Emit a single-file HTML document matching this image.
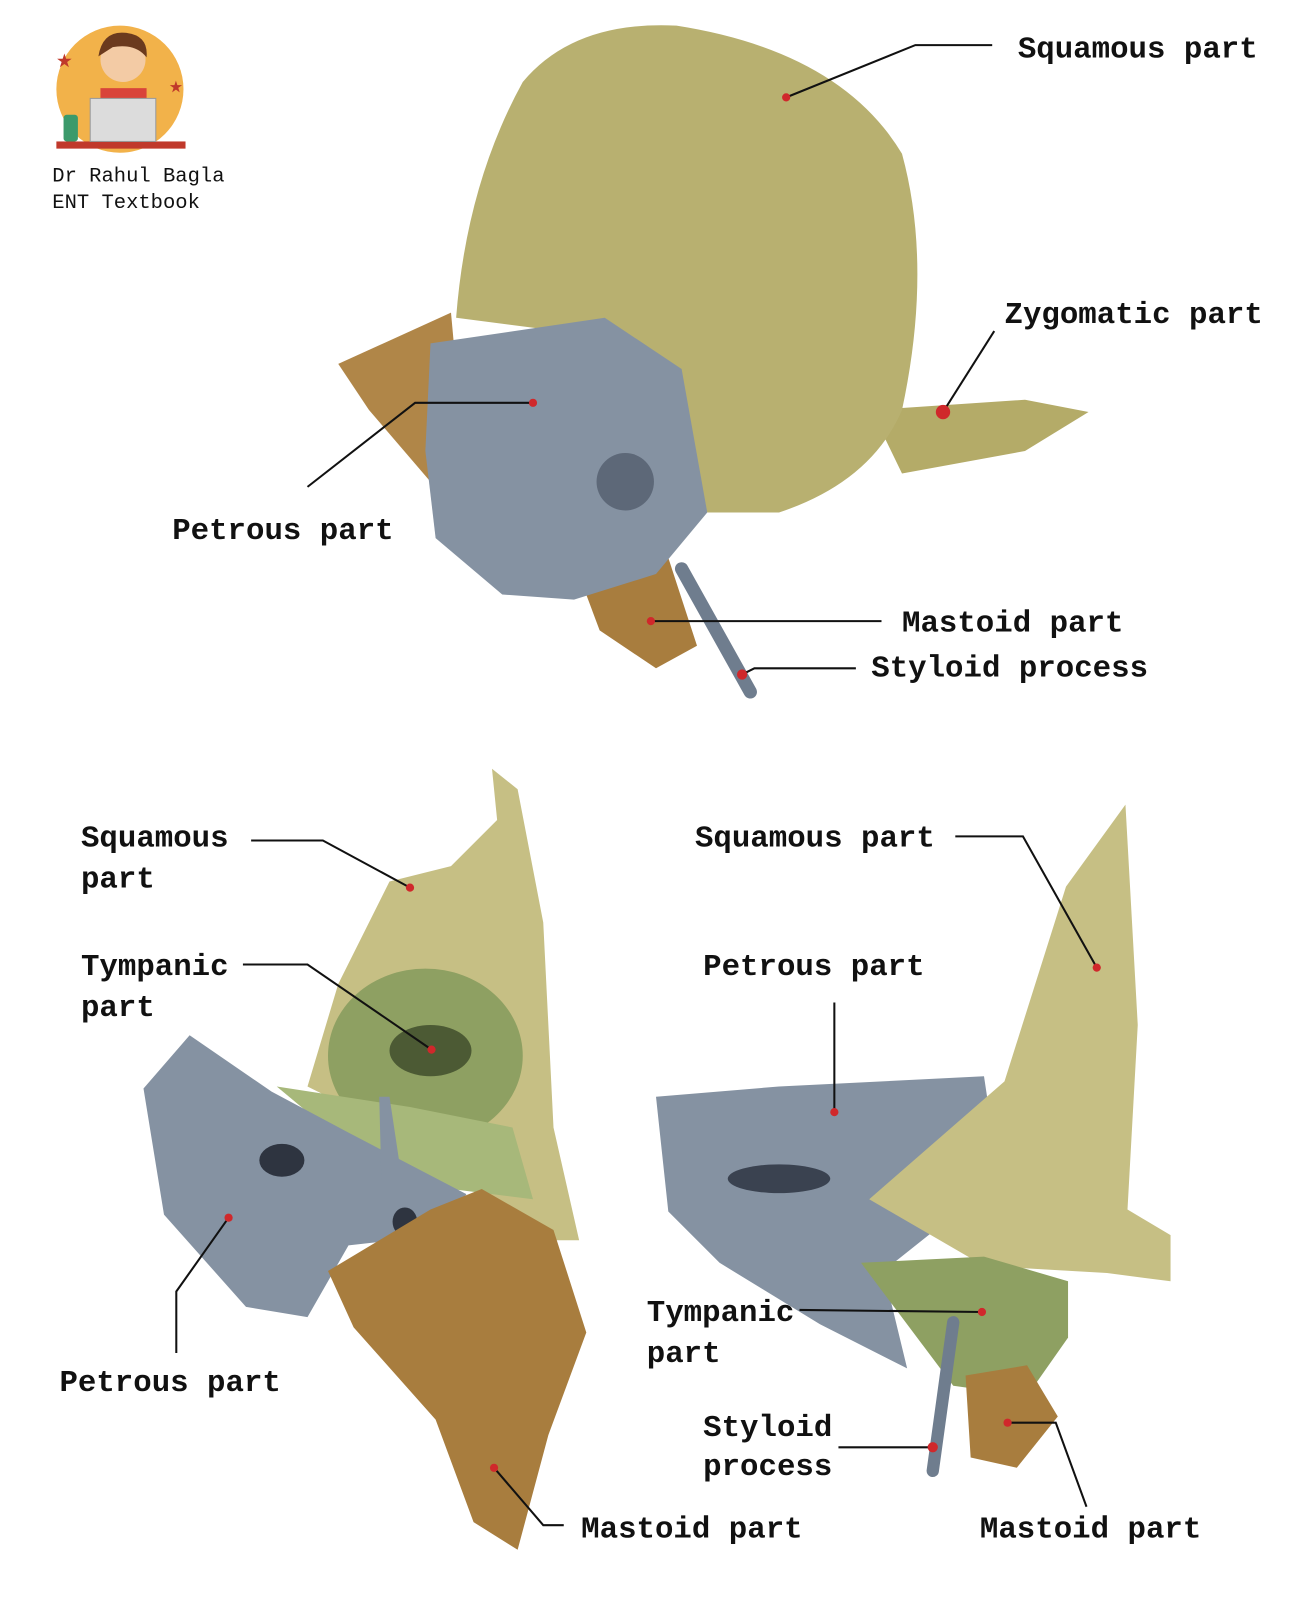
<!DOCTYPE html>
<html><head><meta charset="utf-8"><style>
html,body{margin:0;padding:0;background:#fff;}
svg{display:block}
text{font-family:"Liberation Mono",monospace;font-weight:bold;fill:#111;}
</style></head><body>
<svg width="1294" height="1605" viewBox="0 0 1294 1605" xmlns="http://www.w3.org/2000/svg">
<rect width="1294" height="1605" fill="#fff"/>
<g transform="scale(1.025)">
<!-- logo -->
<circle cx="117" cy="87" r="62" fill="#f2b24a"/>
<rect x="55" y="138" width="126" height="7" fill="#c0392b"/>
<circle cx="120" cy="58" r="22" fill="#f3cba5"/>
<path d="M96 55 Q100 30 122 32 Q145 34 143 56 Q132 42 110 46 Z" fill="#6b3a1e"/>
<rect x="98" y="86" width="45" height="20" fill="#d9443a"/>
<rect x="88" y="96" width="64" height="42" fill="#dcdcdc" stroke="#999"/>
<rect x="62" y="112" width="14" height="26" rx="3" fill="#3b9a6b"/>
<text x="55" y="66" font-size="26" style="fill:#c0392b">★</text>
<text x="165" y="90" font-size="22" style="fill:#c0392b">★</text>
<text x="51" y="177" font-size="20" style="font-weight:normal">Dr Rahul Bagla</text>
<text x="51" y="203" font-size="20" style="font-weight:normal">ENT Textbook</text>

<!-- TOP BONE -->
<path d="M850 400 L1000 390 L1062 402 L1000 440 L880 462 Z" fill="#b4ab68"/>
<path d="M445 310 Q455 180 510 80 Q560 20 660 25 Q820 50 880 150 Q910 260 880 400 Q850 470 760 500 L690 500 L600 330 Z" fill="#b8b070"/>
<path d="M330 355 L440 305 L445 360 L420 470 L360 400 Z" fill="#b08648"/>
<path d="M560 548 L650 538 L680 630 L640 652 L585 615 Z" fill="#a87d3e"/>
<path d="M420 335 L590 310 L665 360 L690 500 L640 560 L560 585 L490 580 L425 525 L415 440 Z" fill="#8592a2"/>
<circle cx="610" cy="470" r="28" fill="#5d6878"/>
<line x1="665" y1="555" x2="732" y2="675" stroke="#6f7d8e" stroke-width="13" stroke-linecap="round"/>

<!-- BOTTOM LEFT -->
<path d="M300 1060 L330 960 L380 860 L440 845 L485 800 L480 750 L505 770 L530 900 L540 1100 L565 1210 L520 1210 L420 1120 Z" fill="#c6bf84"/>
<ellipse cx="415" cy="1030" rx="95" ry="85" fill="#8ea062"/>
<ellipse cx="420" cy="1025" rx="40" ry="25" fill="#4c5a34"/>
<path d="M270 1060 L400 1080 L500 1100 L520 1170 L440 1160 L330 1110 Z" fill="#a7b87a"/>
<path d="M140 1062 L185 1010 L265 1065 L340 1105 L455 1165 L430 1205 L340 1215 L300 1285 L240 1275 L160 1185 Z" fill="#8592a2"/>
<ellipse cx="275" cy="1132" rx="22" ry="16" fill="#2e3440"/>
<ellipse cx="395" cy="1192" rx="12" ry="14" fill="#2e3440"/>
<path d="M370 1070 L380 1070 L392 1150 L372 1150 Z" fill="#8592a2"/>
<path d="M320 1240 L420 1180 L470 1160 L540 1200 L572 1300 L535 1400 L505 1512 L462 1485 L425 1385 L345 1295 Z" fill="#a87d3e"/>

<!-- BOTTOM RIGHT -->
<path d="M640 1070 L760 1060 L960 1050 L975 1150 L862 1240 L885 1335 L800 1292 L702 1232 L652 1182 Z" fill="#8592a2"/>
<ellipse cx="760" cy="1150" rx="50" ry="14" fill="#3a4250"/>
<path d="M848 1170 L980 1055 L1040 865 L1098 785 L1110 1000 L1100 1180 L1142 1205 L1142 1250 L1080 1242 L960 1235 Z" fill="#c6bf84"/>
<path d="M840 1232 L960 1226 L1042 1250 L1042 1305 L1002 1362 L930 1352 Z" fill="#8ea062"/>
<path d="M942 1342 L1002 1332 L1032 1382 L992 1432 L947 1422 Z" fill="#a87d3e"/>
<line x1="930" y1="1290" x2="910" y2="1435" stroke="#6f7d8e" stroke-width="12" stroke-linecap="round"/>

<!-- leader lines -->
<g stroke="#111" stroke-width="2" fill="none">
<polyline points="767,95 893,44 968,44"/>
<polyline points="920,402 970,323"/>
<polyline points="300,475 405,393 520,393"/>
<polyline points="635,606 860,606"/>
<polyline points="724,658 736,652 835,652"/>
<polyline points="245,820 315,820 400,866"/>
<polyline points="237,941 300,941 421,1024"/>
<polyline points="223,1188 172,1260 172,1320"/>
<polyline points="482,1432 530,1488 550,1488"/>
<polyline points="932,816 998,816 1070,944"/>
<polyline points="814,978 814,1085"/>
<polyline points="780,1278 958,1280"/>
<polyline points="818,1412 910,1412"/>
<polyline points="983,1388 1030,1388 1060,1470"/>
</g>
<g fill="#d0282b">
<circle cx="767" cy="95" r="4"/><circle cx="920" cy="402" r="7"/><circle cx="520" cy="393" r="4"/>
<circle cx="635" cy="606" r="4"/><circle cx="724" cy="658" r="5"/><circle cx="400" cy="866" r="4"/>
<circle cx="421" cy="1024" r="4"/><circle cx="223" cy="1188" r="4"/><circle cx="482" cy="1432" r="4"/>
<circle cx="1070" cy="944" r="4"/><circle cx="814" cy="1085" r="4"/><circle cx="958" cy="1280" r="4"/>
<circle cx="910" cy="1412" r="5"/><circle cx="983" cy="1388" r="4"/>
</g>

<!-- labels -->
<g font-size="30">
<text x="993" y="56">Squamous part</text>
<text x="980" y="315">Zygomatic part</text>
<text x="168" y="526">Petrous part</text>
<text x="880" y="616">Mastoid part</text>
<text x="850" y="660">Styloid process</text>
<text x="79" y="826">Squamous</text>
<text x="79" y="866">part</text>
<text x="79" y="951">Tympanic</text>
<text x="79" y="991">part</text>
<text x="58" y="1357">Petrous part</text>
<text x="567" y="1500">Mastoid part</text>
<text x="678" y="826">Squamous part</text>
<text x="686" y="951">Petrous part</text>
<text x="631" y="1289">Tympanic</text>
<text x="631" y="1329">part</text>
<text x="686" y="1401">Styloid</text>
<text x="686" y="1439">process</text>
<text x="956" y="1500">Mastoid part</text>
</g>
</g>
</svg>
</body></html>
